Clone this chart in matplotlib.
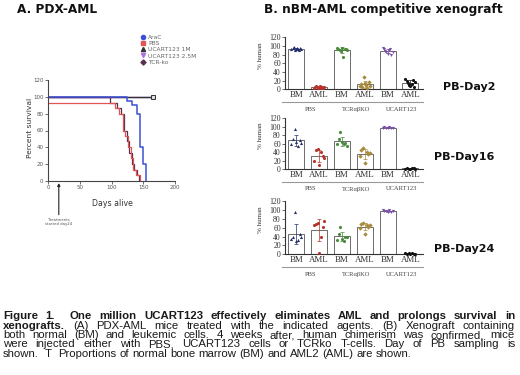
import numpy as np
import matplotlib
matplotlib.use('Agg')
import matplotlib.pyplot as plt
from matplotlib.lines import Line2D
from matplotlib.transforms import blended_transform_factory
from matplotlib.font_manager import FontProperties

# ---------------- data ----------------
# Panel A: Kaplan-Meier survival (days, percent)
surv_labels = ['AraC', 'PBS', 'UCART123 1M', 'UCART123 2.5M', 'TCR-ko']
arac_days = [0, 125, 133, 140, 145, 150, 155]
arac_surv = [100, 95, 90, 80, 40, 20, 0]
pbs_days = [0, 105, 112, 118, 122, 126, 130, 134, 138, 145]
pbs_surv = [93, 87, 80, 60, 53, 40, 27, 13, 7, 0]
ucart1_days = [0, 165]
ucart1_surv = [100, 100]
ucart25_days = [0, 165]
ucart25_surv = [100, 100]
tcr_days = [0, 98, 108, 115, 120, 125, 128, 132, 135, 140, 143]
tcr_surv = [100, 93, 87, 80, 60, 47, 33, 20, 13, 7, 0]
treat_day = 17

# Panel B: % human chimerism per mouse
categories = ['BM', 'AML', 'BM', 'AML', 'BM', 'AML']
groups = ['PBS', 'TCRαβKO', 'UCART123']
day_labels = ['PB-Day2', 'PB-Day16', 'PB-Day24']
day2_points = [
    [92, 95, 97, 90, 94, 96, 93, 91, 95, 93],
    [3, 5, 7, 2, 6, 8, 4, 5, 3, 6],
    [95, 92, 90, 88, 96, 75, 93, 94, 91],
    [8, 12, 5, 28, 15, 10, 3, 18, 7],
    [95, 92, 88, 85, 82, 90, 93, 80, 87],
    [24, 20, 15, 10, 8, 12, 22, 5, 18],
]
day16_points = [
    [60, 70, 95, 65, 55, 68, 62],
    [20, 45, 48, 10, 40, 30, 25],
    [58, 70, 88, 65, 60, 62, 55],
    [30, 45, 50, 15, 40, 35, 38],
    [98, 99, 97, 98, 99, 98, 97],
    [1, 2, 0.5, 1, 2, 1.5, 1],
]
day24_points = [
    [35, 40, 95, 30, 32, 45, 38],
    [65, 68, 70, 3, 40, 62, 75],
    [33, 45, 62, 35, 30, 38, 40],
    [60, 68, 70, 45, 65, 62, 66],
    [100, 98, 97, 95, 99, 96, 98],
    [2, 1, 3, 1, 2, 0.5, 1.5],
]

caption_lines = [
    [("Figure 1.  One million UCART123 effectively eliminates AML and prolongs survival in", 'bold')],
    [("xenografts.", 'bold'), ("(A) PDX-AML mice treated with the indicated agents. (B) Xenograft containing", 'normal')],
    [("both normal (BM) and leukemic cells. 4 weeks after, human chimerism was confirmed, mice", 'normal')],
    [("were injected either with PBS, UCART123 cells or TCRko T-cells. Day of PB sampling is", 'normal')],
    [("shown.  T  Proportions of normal bone marrow (BM) and AML2 (AML) are shown.", 'normal')],
]

# ---------------- helpers ----------------
W, H = 520, 375
fig = plt.figure(figsize=(W / 100, H / 100), dpi=100)
fig.patch.set_facecolor('white')


def rect(l, t, r, b):
    return [l / W, 1 - b / H, (r - l) / W, (b - t) / H]


def fx(x):
    return x / W


def fy(y):
    return 1 - y / H


SANS = 'DejaVu Sans'
CAPF = 'Liberation Sans'
SERIF = 'Liberation Serif'

# ---------------- Panel A ----------------
fig.text(fx(17), fy(9.5), 'A. PDX-AML', fontsize=8.7, fontweight='bold',
         family=SANS, va='center', ha='left', color='#111')

axA = fig.add_axes(rect(48, 80, 175, 181))
col_arac = '#3b4fd6'
col_pbs = '#e05555'
col_u1 = '#333333'
col_u25 = '#b070e0'
col_tcr = '#5a3050'
axA.step(ucart25_days, ucart25_surv, where='post', color=col_u25, lw=1.0)
axA.step(ucart1_days, ucart1_surv, where='post', color=col_u1, lw=1.0)
axA.step(tcr_days, tcr_surv, where='post', color=col_tcr, lw=0.9)
axA.step(pbs_days, pbs_surv, where='post', color=col_pbs, lw=0.9)
axA.step(arac_days, arac_surv, where='post', color=col_arac, lw=1.1)
axA.plot([ucart1_days[-1]], [ucart1_surv[-1]], marker='s', ms=3.2, mfc='#ddd',
         mec='#333', mew=0.7, clip_on=False)
axA.set_xlim(0, 200)
axA.set_ylim(0, 120)
axA.set_xticks([0, 50, 100, 150, 200])
axA.set_yticks([0, 20, 40, 60, 80, 100, 120])
for s in ['top', 'right']:
    axA.spines[s].set_visible(False)
for s in ['left', 'bottom']:
    axA.spines[s].set_color('#444')
    axA.spines[s].set_linewidth(0.8)
axA.tick_params(labelsize=4.0, length=2, width=0.6, pad=1.2, colors='#555')
for lab in axA.get_xticklabels() + axA.get_yticklabels():
    lab.set_family(SANS)
fig.text(fx(112), fy(203), 'Days alive', fontsize=5.6, family=SANS,
         ha='center', va='center', color='#333')
fig.text(fx(30), fy(128), 'Percent survival', fontsize=5.4, family=SANS,
         ha='center', va='center', rotation=90, color='#333')
axA.annotate('', xy=(treat_day, -2.5), xytext=(treat_day, -40),
             xycoords='data', textcoords='data', annotation_clip=False,
             arrowprops=dict(arrowstyle='-|>', color='#222', lw=0.8,
                             mutation_scale=4, shrinkA=0, shrinkB=0))
fig.text(fx(59), fy(222), 'Treatments\nstarted day24', fontsize=2.8, family=SANS,
         ha='center', va='center', color='#555', linespacing=1.2)

handles = [
    Line2D([], [], ls='none', marker='o', ms=3, color=col_arac),
    Line2D([], [], ls='none', marker='s', ms=3, color=col_pbs),
    Line2D([], [], ls='none', marker='^', ms=3, color=col_u1),
    Line2D([], [], ls='none', marker='v', ms=3, color=col_u25),
    Line2D([], [], ls='none', marker='D', ms=2.6, color=col_tcr),
]
leg = fig.legend(handles, surv_labels, loc='upper left',
                 bbox_to_anchor=(fx(141), fy(35)), frameon=False,
                 handlelength=0.8, handletextpad=0.4,
                 labelspacing=0.16, borderpad=0, borderaxespad=0,
                 prop={'family': SANS, 'size': 4.3})
for t in leg.get_texts():
    t.set_color('#666')

# ---------------- Panel B ----------------
fig.text(fx(264), fy(10), 'B. nBM-AML competitive xenograft', fontsize=8.7,
         fontweight='bold', family=SANS, va='center', ha='left', color='#111')

point_colors = ['#27306e', '#b8332a', '#4a8a3c', '#a88a3a', '#7b4ea8', '#111111']
point_markers = ['^', 'o', 'o', 'D', 'v', 'o']
panel_points = [day2_points, day16_points, day24_points]
panel_rects = [(285, 37.3, 423, 89.3), (285, 118.3, 423, 169), (285, 201, 423, 254.3)]
day_label_pos = [(443, 87), (434, 157), (434, 249)]

for p, (pts_list, (l, t, r, b)) in enumerate(zip(panel_points, panel_rects)):
    ax = fig.add_axes(rect(l, t, r, b))
    x = np.arange(len(categories))
    for i, pts in enumerate(pts_list):
        pts = np.asarray(pts, dtype=float)
        m = pts.mean()
        sd = pts.std(ddof=1)
        ax.bar(i, m, width=0.7, color='white', edgecolor='#555', lw=0.6, zorder=1)
        ax.errorbar(i, m, yerr=sd, color=point_colors[i], capsize=1.5,
                    elinewidth=0.5, capthick=0.5, zorder=2)
        offs = np.linspace(-0.22, 0.22, len(pts))
        ax.scatter(i + offs, pts, s=5, marker=point_markers[i],
                   color=point_colors[i], linewidths=0, zorder=3, clip_on=False)
    ax.set_xlim(-0.5, 5.55)
    ax.set_ylim(0, 120)
    ax.set_yticks([0, 20, 40, 60, 80, 100, 120])
    ax.set_xticks(x)
    ax.set_xticklabels(categories)
    for s in ['top', 'right']:
        ax.spines[s].set_visible(False)
    for s in ['left', 'bottom']:
        ax.spines[s].set_color('#333')
        ax.spines[s].set_linewidth(0.8)
    ax.tick_params(axis='y', labelsize=5.6, length=2, width=0.5, pad=1, colors='#333')
    ax.tick_params(axis='x', labelsize=6.4, length=0, pad=1.3, colors='#333')
    for lab in ax.get_xticklabels() + ax.get_yticklabels():
        lab.set_family(SERIF)
    fig.add_artist(Line2D([fx(282), fx(423)], [fy(b + 12.5), fy(b + 12.5)],
                          color='#999', lw=0.8))
    tr = blended_transform_factory(ax.transData, fig.transFigure)
    for g, name in enumerate(groups):
        ax.text(2 * g + 0.62, fy(b + 20), name, transform=tr, fontsize=4.7,
                family=SERIF, ha='center', va='center', color='#444')
    fig.text(fx(260), fy((t + b) / 2 - 8), '% human', fontsize=5, family=SERIF,
             rotation=90, ha='center', va='center', color='#333')
    dx, dy = day_label_pos[p]
    fig.text(fx(dx), fy(dy), day_labels[p], fontsize=8, fontweight='bold',
             family=SANS, ha='left', va='center', color='#111')

# ---------------- Caption (justified, word by word) ----------------
renderer = fig.canvas.get_renderer()
left_px, right_px = 3, 515
cap_fs = 8.2


def text_width(s, weight):
    fp = FontProperties(family=CAPF, weight=weight, size=cap_fs)
    return renderer.get_text_width_height_descent(s, fp, ismath=False)[0]


space_w = text_width('x x', 'normal') - text_width('xx', 'normal')
for li, segs in enumerate(caption_lines):
    words = []
    for s, wgt in segs:
        pending = 1 if words else 0
        for tok in s.split(' '):
            if tok == '':
                pending += 1
                continue
            words.append((tok, wgt, pending))
            pending = 1
    widths = [text_width(wd, wgt) for wd, wgt, _ in words]
    units = sum(sp for _, _, sp in words[1:])
    last = li == len(caption_lines) - 1
    if last or units == 0:
        unit = space_w
    else:
        unit = (right_px - left_px - sum(widths)) / units
    xcur = left_px
    ybase = 319.3 + 9.35 * li
    for k, ((wd, wgt, sp), wdt) in enumerate(zip(words, widths)):
        if k > 0:
            xcur += sp * unit
        fig.text(fx(xcur), fy(ybase), wd, fontsize=cap_fs, fontweight=wgt,
                 family=CAPF, ha='left', va='baseline', color='#1a1a1a')
        xcur += wdt

fig.savefig('out.png', dpi=100, facecolor='white')
